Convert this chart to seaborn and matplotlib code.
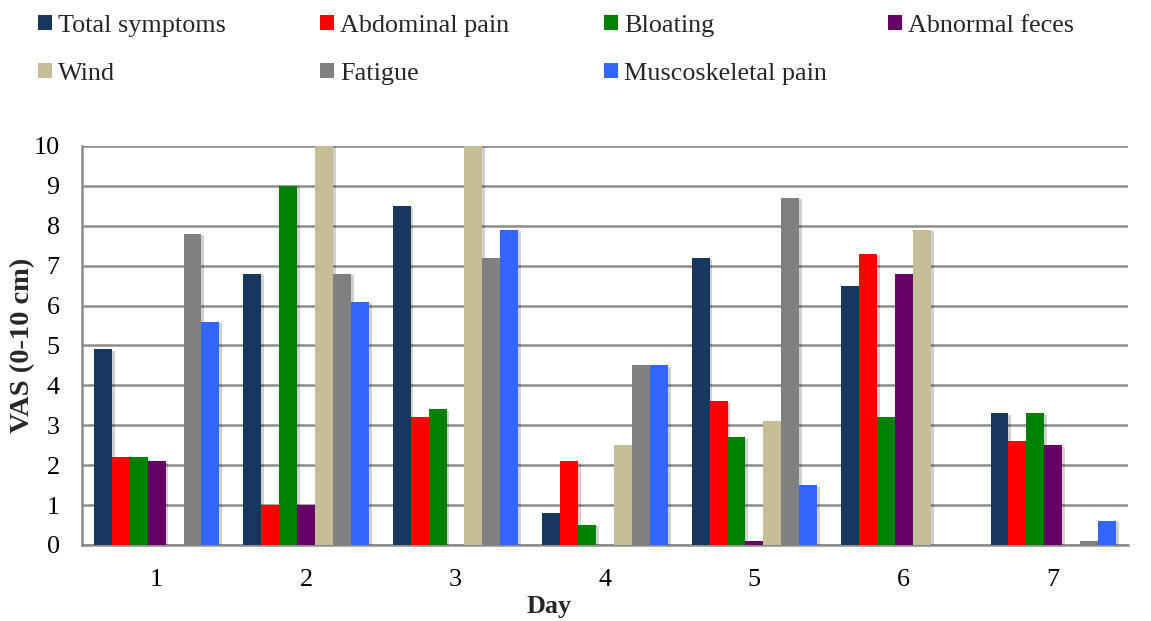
import numpy as np
import pandas as pd
import matplotlib
matplotlib.use("Agg")
import matplotlib.pyplot as plt
import matplotlib.patheffects as pe
from matplotlib.patches import Patch
import seaborn as sns

days = ["1", "2", "3", "4", "5", "6", "7"]
symptoms = ["Total symptoms", "Abdominal pain", "Bloating", "Abnormal feces",
            "Wind", "Fatigue", "Muscoskeletal pain"]

total_symptoms = [4.9, 6.8, 8.5, 0.8, 7.2, 6.5, 3.3]
abdominal_pain = [2.2, 1.0, 3.2, 2.1, 3.6, 7.3, 2.6]
bloating = [2.2, 9.0, 3.4, 0.5, 2.7, 3.2, 3.3]
abnormal_feces = [2.1, 1.0, 0.0, 0.0, 0.1, 6.8, 2.5]
wind = [0.0, 10.0, 10.0, 2.5, 3.1, 7.9, 0.0]
fatigue = [7.8, 6.8, 7.2, 4.5, 8.7, 0.0, 0.1]
muscoskeletal_pain = [5.6, 6.1, 7.9, 4.5, 1.5, 0.0, 0.6]

colors = ["#17375E", "#FF0000", "#008000", "#660066",
          "#C4BD97", "#808080", "#3366FF"]

series = [total_symptoms, abdominal_pain, bloating, abnormal_feces,
          wind, fatigue, muscoskeletal_pain]
df = pd.DataFrame({
    "Day": np.tile(days, len(symptoms)),
    "Symptom": np.repeat(symptoms, len(days)),
    "VAS": np.concatenate(series),
})

FS = 18.8
GRID = "#8C8C8C"

sns.set_theme(style="white")
plt.rcParams["font.family"] = ["Liberation Serif", "DejaVu Serif"]

fig = plt.figure(figsize=(11.51, 6.21), dpi=100)
ax = fig.add_axes([0.0712, 0.1224, 0.9088, 0.6425])

sns.barplot(data=df, x="Day", y="VAS", hue="Symptom", order=days,
            hue_order=symptoms, palette=colors, width=0.84,
            linewidth=0, saturation=1, legend=False, ax=ax, zorder=3)

# soft drop shadow behind each bar
for bar in ax.patches:
    bar.set_path_effects([pe.SimplePatchShadow(offset=(2, -1), alpha=0.18,
                                               shadow_rgbFace="black"),
                          pe.Normal()])

ax.set_xlim(-0.5, 6.5)
ax.set_ylim(0, 10)
ax.set_yticks(range(0, 11))
ax.yaxis.grid(True, color=GRID, linewidth=1.8, zorder=0)
ax.set_axisbelow(True)

for side in ["top", "right"]:
    ax.spines[side].set_visible(False)
for side in ["left", "bottom"]:
    ax.spines[side].set_color(GRID)
    ax.spines[side].set_linewidth(1.8)

# category separators below the axis
ax.set_xticks(np.arange(-0.5, 7.0, 1.0), minor=True)
ax.tick_params(axis="x", which="major", length=0, labelsize=FS, pad=17,
               colors="black")
ax.tick_params(axis="x", which="minor", length=5.5, width=1.8, color=GRID,
               direction="out")
ax.tick_params(axis="y", which="major", length=6, width=1.8, color=GRID,
               labelsize=FS, pad=10, labelcolor="black")

ax.set_xlabel("Day", fontsize=FS, fontweight="bold")
ax.xaxis.set_label_coords(0.447, -0.125)
ax.set_ylabel("VAS (0-10 cm)", fontsize=20.5, fontweight="bold", labelpad=-1)

# legend laid out row by row in four columns
col_x = [38, 320, 604, 888]
rows = [[0, 4], [1, 5], [2, 6], [3]]
W, H = fig.get_size_inches() * fig.dpi
for x, idx in zip(col_x, rows):
    handles = [Patch(facecolor=colors[i], edgecolor="none") for i in idx]
    labels = [symptoms[i] for i in idx]
    fig.legend(handles, labels, loc="upper left",
               bbox_to_anchor=(x / W, 1 - 15 / H), frameon=False,
               fontsize=FS, handlelength=0.53, handleheight=0.53,
               handletextpad=0.23, labelspacing=0.98, borderpad=0,
               borderaxespad=0)

fig.savefig("out.png", dpi=100)
